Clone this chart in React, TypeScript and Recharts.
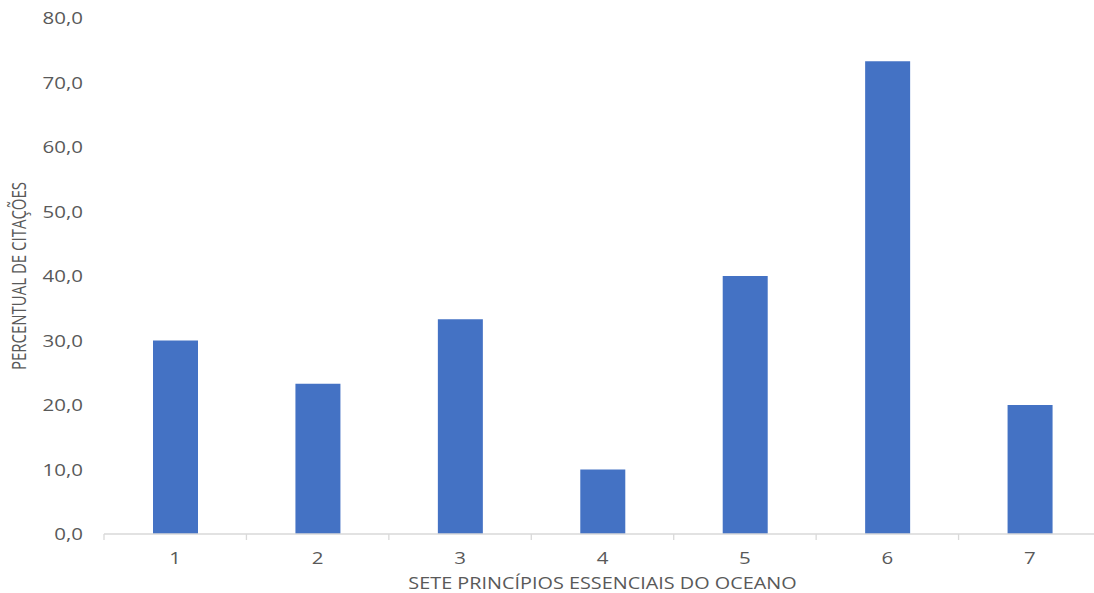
import { BarChart, Bar, XAxis, YAxis, Label } from "recharts";

const principles = ["1", "2", "3", "4", "5", "6", "7"];
const citationPct = [30.0, 23.3, 33.3, 10.0, 40.0, 73.3, 20.0];
const yTicks = [0, 10, 20, 30, 40, 50, 60, 70, 80];

const data = principles.map((p, i) => ({ name: p, value: citationPct[i] }));

const CHART_W = 1110;
const CHART_H = 593;
const Y_AXIS_W = 104;
const X_AXIS_H = 59;
const MARGIN = { top: 18, right: 9, bottom: 0, left: 0 };
const STEP = (CHART_W - Y_AXIS_W - MARGIN.left - MARGIN.right) / principles.length;

const axisGray = "#d9d9d9";
const textGray = "#595959";
const font = "'Open Sans', 'DejaVu Sans', sans-serif";
const STRETCH = 1.28; // the source text is wide, stretch horizontally

function XTick(props: any) {
  const { x, y, payload, index } = props;
  const top = y; // axis line
  return (
    <g>
      <line x1={x - STEP / 2} x2={x - STEP / 2} y1={top} y2={top + 6} stroke={axisGray} strokeWidth={1.3} />
      {index === principles.length - 1 && (
        <line x1={x + STEP / 2} x2={x + STEP / 2} y1={top} y2={top + 6} stroke={axisGray} strokeWidth={1.3} />
      )}
      <text
        transform={`translate(${x},${top + 30}) scale(${STRETCH},1)`}
        textAnchor="middle"
        fill={textGray}
        fontSize={16}
        fontFamily={font}
      >
        {payload.value}
      </text>
    </g>
  );
}

function YTick(props: any) {
  const { x, y, payload } = props;
  return (
    <text
      transform={`translate(${x},${y + 6}) scale(${STRETCH},1)`}
      textAnchor="end"
      fill={textGray}
      fontSize={16}
      fontFamily={font}
    >
      {payload.value.toFixed(1).replace(".", ",")}
    </text>
  );
}

export default function App() {
  return (
    <div style={{ position: "absolute", left: 0, top: 0, width: 1094, height: 593, overflow: "hidden", background: "#fff" }}>
      <BarChart width={CHART_W} height={CHART_H} data={data} margin={MARGIN}>
        <XAxis
          dataKey="name"
          axisLine={{ stroke: axisGray, strokeWidth: 1.3 }}
          tickLine={false}
          tickSize={0}
          tickMargin={0}
          tick={<XTick />}
          interval={0}
          height={X_AXIS_H}
        >
          <Label
            content={(p: any) => {
              const vb = p.viewBox;
              return (
                <text
                  transform={`translate(${vb.x + vb.width / 2},${vb.y + 55}) scale(${STRETCH},1)`}
                  textAnchor="middle"
                  fill={textGray}
                  fontSize={15.5}
                  fontFamily={font}
                >
                  SETE PRINCÍPIOS ESSENCIAIS DO OCEANO
                </text>
              );
            }}
          />
        </XAxis>
        <YAxis
          width={Y_AXIS_W}
          domain={[0, 80]}
          ticks={yTicks}
          interval={0}
          axisLine={false}
          tickLine={false}
          tickSize={0}
          tickMargin={21}
          tick={<YTick />}
        >
          <Label
            content={(p: any) => {
              const vb = p.viewBox;
              const cy = vb.y + vb.height / 2;
              return (
                <text
                  transform={`translate(${vb.x + 26},${cy}) scale(${STRETCH},1) rotate(-90)`}
                  textAnchor="middle"
                  fill={textGray}
                  fontSize={15}
                  fontFamily={font}
                >
                  PERCENTUAL DE CITAÇÕES
                </text>
              );
            }}
          />
        </YAxis>
        <Bar dataKey="value" fill="#4472c4" barSize={45} isAnimationActive={false} />
      </BarChart>
    </div>
  );
}
